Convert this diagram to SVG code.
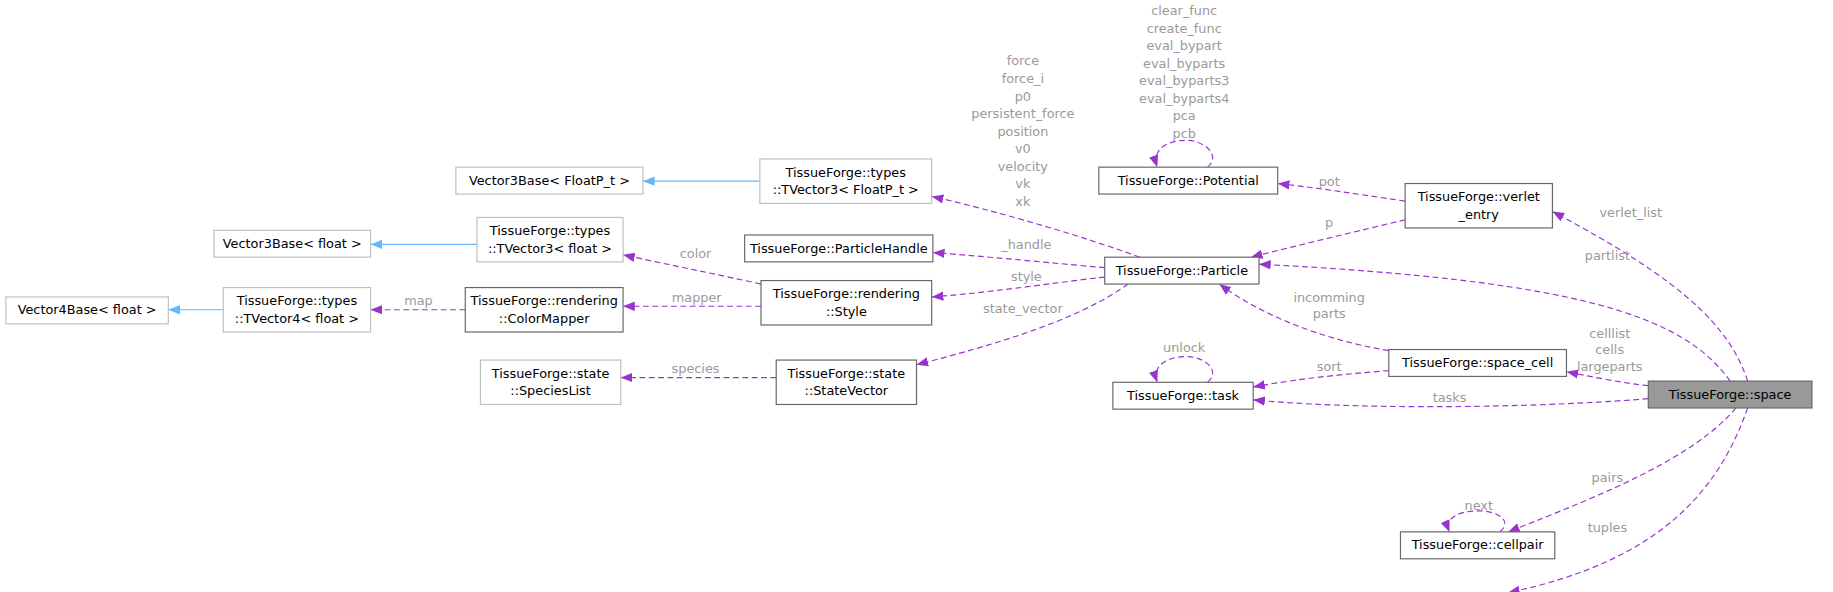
<svg xmlns="http://www.w3.org/2000/svg" width="1833" height="592" viewBox="0 0 1833 592">
<style>
text{font-family:"DejaVu Sans",sans-serif;font-size:11px}
.n rect{fill:#fff;stroke:#666;stroke-width:1}
.g rect{fill:#fff;stroke:#bfbfbf;stroke-width:1}
.n text,.g text{fill:#000;text-anchor:middle}
.e{fill:none;stroke:#9a32cd;stroke-dasharray:5,3;stroke-width:1}
.b{fill:none;stroke:#63b8ff;stroke-width:1}
.l{fill:#9a9a9a;text-anchor:middle}
</style>
<defs>
<marker id="p" viewBox="0 0 10 10" refX="10" refY="5" markerWidth="10" markerHeight="10" markerUnits="userSpaceOnUse" orient="auto"><path d="M0,1L10,5L0,9z" fill="#9a32cd"/></marker>
<marker id="bl" viewBox="0 0 10 10" refX="10" refY="5" markerWidth="10" markerHeight="10" markerUnits="userSpaceOnUse" orient="auto"><path d="M0,1L10,5L0,9z" fill="#63b8ff"/></marker>
</defs>
<g transform="scale(1.169)">
<g id="edges">
<path class="b" marker-end="url(#bl)" d="M191,265 H144"/>
<path class="b" marker-end="url(#bl)" d="M408,209 H317"/>
<path class="b" marker-end="url(#bl)" d="M650,155 H550"/>
<path class="e" marker-end="url(#p)" d="M398,265 H317"/><text class="l" x="358" y="261">map</text>
<path class="e" marker-end="url(#p)" d="M651,262 H533"/><text class="l" x="596" y="258">mapper</text>
<path class="e" marker-end="url(#p)" d="M651,243 C610,234 570,226 533,218"/><text class="l" x="595" y="221">color</text>
<path class="e" marker-end="url(#p)" d="M664,323 H531"/><text class="l" x="595" y="319">species</text>
<path class="e" marker-end="url(#p)" d="M945,229 C900,225 850,220 798,216"/><text class="l" x="878" y="213">_handle</text>
<path class="e" marker-end="url(#p)" d="M945,237 C900,242 850,250 797,254"/><text class="l" x="878" y="240">style</text>
<path class="e" marker-end="url(#p)" d="M975,220 C920,200 850,180 797,168"/>
<text class="l" x="875" y="56">force</text><text class="l" x="875" y="71">force_i</text><text class="l" x="875" y="86">p0</text><text class="l" x="875" y="101">persistent_force</text><text class="l" x="875" y="116">position</text><text class="l" x="875" y="131">v0</text><text class="l" x="875" y="146">velocity</text><text class="l" x="875" y="161">vk</text><text class="l" x="875" y="176">xk</text>
<path class="e" marker-end="url(#p)" d="M965,243 C920,275 850,295 784,312"/><text class="l" x="875" y="268">state_vector</text>
<path class="e" marker-end="url(#p)" d="M1202,172 C1160,166 1130,161 1093,157"/><text class="l" x="1137" y="159">pot</text>
<path class="e" marker-end="url(#p)" d="M1202,188 C1160,198 1110,210 1070,220"/><text class="l" x="1137" y="194">p</text>
<path class="e" marker-end="url(#p)" d="M1033,143 C1045,133 1030,120 1015,120 C998,120 985,128 990,143"/>
<text class="l" x="1013" y="13">clear_func</text><text class="l" x="1013" y="28">create_func</text><text class="l" x="1013" y="43">eval_bypart</text><text class="l" x="1013" y="58">eval_byparts</text><text class="l" x="1013" y="73">eval_byparts3</text><text class="l" x="1013" y="88">eval_byparts4</text><text class="l" x="1013" y="103">pca</text><text class="l" x="1013" y="118">pcb</text>
<path class="e" marker-end="url(#p)" d="M1188,300 C1130,290 1080,270 1043,243"/><text class="l" x="1137" y="258">incomming</text><text class="l" x="1137" y="272">parts</text>
<path class="e" marker-end="url(#p)" d="M1188,317 C1150,320 1110,324 1072,331"/><text class="l" x="1137" y="317">sort</text>
<path class="e" marker-end="url(#p)" d="M1033,327 C1045,317 1030,305 1015,305 C998,305 985,313 990,327"/><text class="l" x="1013" y="301">unlock</text>
<path class="e" marker-end="url(#p)" d="M1495,326 C1480,280 1440,240 1328,181"/><text class="l" x="1395" y="186">verlet_list</text>
<path class="e" marker-end="url(#p)" d="M1480,326 C1440,270 1350,240 1077,226"/><text class="l" x="1375" y="222">partlist</text>
<path class="e" marker-end="url(#p)" d="M1410,330 C1390,328 1360,322 1340,318"/><text class="l" x="1377" y="289">celllist</text><text class="l" x="1377" y="303">cells</text><text class="l" x="1377" y="317">largeparts</text>
<path class="e" marker-end="url(#p)" d="M1410,341 C1300,350 1150,350 1072,342"/><text class="l" x="1240" y="344">tasks</text>
<path class="e" marker-end="url(#p)" d="M1485,349 C1450,390 1380,420 1290,455"/><text class="l" x="1375" y="412">pairs</text>
<path class="e" marker-end="url(#p)" d="M1495,349 C1470,420 1420,480 1290,507"/><text class="l" x="1375" y="455">tuples</text>
<path class="e" marker-end="url(#p)" d="M1283,455 C1295,445 1280,437 1265,437 C1248,437 1235,443 1240,455"/><text class="l" x="1265" y="436">next</text>
</g>
<g id="n1" class="g"><rect x="5" y="254" width="139" height="23"/><text x="74.5" y="269">Vector4Base&lt; float &gt;</text></g>
<g id="n2" class="g"><rect x="191" y="246" width="126" height="38"/><text x="254" y="261">TissueForge::types</text><text x="254" y="276">::TVector4&lt; float &gt;</text></g>
<g id="n3" class="g"><rect x="183" y="197" width="134" height="23"/><text x="250" y="212">Vector3Base&lt; float &gt;</text></g>
<g id="n4" class="g"><rect x="390" y="143" width="160" height="23"/><text x="470" y="158">Vector3Base&lt; FloatP_t &gt;</text></g>
<g id="n5" class="g"><rect x="408" y="186" width="125" height="38"/><text x="470.5" y="201">TissueForge::types</text><text x="470.5" y="216">::TVector3&lt; float &gt;</text></g>
<g id="n6" class="g"><rect x="650" y="136" width="147" height="38"/><text x="723.5" y="151">TissueForge::types</text><text x="723.5" y="166">::TVector3&lt; FloatP_t &gt;</text></g>
<g id="n7" class="n"><rect x="398" y="246" width="135" height="38"/><text x="465.5" y="261">TissueForge::rendering</text><text x="465.5" y="276">::ColorMapper</text></g>
<g id="n8" class="n"><rect x="637" y="201" width="161" height="23"/><text x="717.5" y="216">TissueForge::ParticleHandle</text></g>
<g id="n9" class="n"><rect x="651" y="240" width="146" height="38"/><text x="724" y="255">TissueForge::rendering</text><text x="724" y="270">::Style</text></g>
<g id="n10" class="g"><rect x="411" y="308" width="120" height="38"/><text x="471" y="323">TissueForge::state</text><text x="471" y="338">::SpeciesList</text></g>
<g id="n11" class="n"><rect x="664" y="308" width="120" height="38"/><text x="724" y="323">TissueForge::state</text><text x="724" y="338">::StateVector</text></g>
<g id="n12" class="n"><rect x="940" y="143" width="153" height="23"/><text x="1016.5" y="158">TissueForge::Potential</text></g>
<g id="n13" class="n"><rect x="945" y="220" width="132" height="23"/><text x="1011" y="235">TissueForge::Particle</text></g>
<g id="n14" class="n"><rect x="1202" y="157" width="126" height="38"/><text x="1265" y="172">TissueForge::verlet</text><text x="1265" y="187">_entry</text></g>
<g id="n15" class="n"><rect x="952" y="327" width="120" height="23"/><text x="1012" y="342">TissueForge::task</text></g>
<g id="n16" class="n"><rect x="1188" y="299" width="152" height="23"/><text x="1264" y="314">TissueForge::space_cell</text></g>
<g id="n17" class="n"><rect x="1410" y="326" width="140" height="23" style="fill:#999"/><text x="1480" y="341">TissueForge::space</text></g>
<g id="n18" class="n"><rect x="1198" y="455" width="132" height="23"/><text x="1264" y="470">TissueForge::cellpair</text></g>
<g id="n19" class="n"><rect x="1195" y="507" width="138" height="23"/><text x="1264" y="522">TissueForge::celltuple</text></g>
</g>
</svg>
